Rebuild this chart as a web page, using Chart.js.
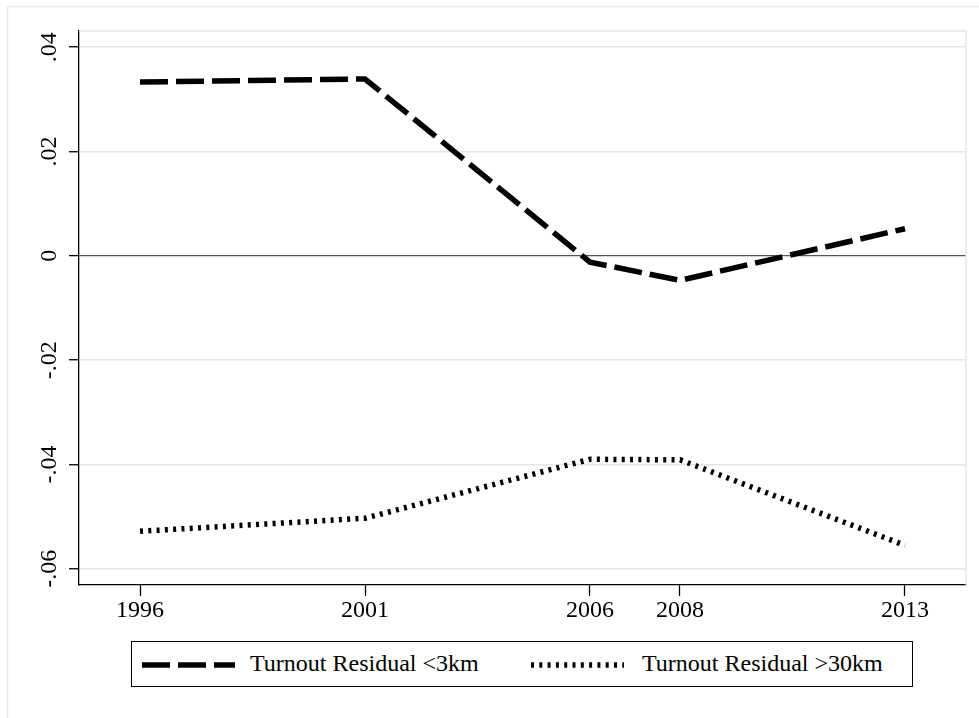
<!DOCTYPE html>
<html>
<head>
<meta charset="utf-8">
<script src="https://cdn.jsdelivr.net/npm/chart.js@4/dist/chart.umd.min.js"></script>
<style>
  html, body { margin: 0; padding: 0; background: #fff; }
  #wrap { position: relative; width: 979px; height: 718px; overflow: hidden; }
  canvas { position: absolute; left: 0; top: 0; }
  #legend { position: absolute; left: 131px; top: 641px; width: 780px; height: 44px;
            border: 1.3px solid #000; background: #fff;
            font-family: 'Liberation Serif', 'Times New Roman', serif; font-size: 24px; color: #000; }
  .item { position: absolute; top: 0; height: 44px; }
  .item svg { position: absolute; top: 0; }
  .item span { position: absolute; top: 9px; white-space: nowrap; line-height: 24px; }
</style>
</head>
<body>
<div id="wrap">
  <canvas id="c" width="979" height="718"></canvas>
  <div id="legend"></div>
</div>
<script>
// ---- data ----
const years = [1996, 2001, 2006, 2008, 2013];
const near3km = [0.0333, 0.0339, -0.0012, -0.0047, 0.0052];
const far30km = [-0.0528, -0.0503, -0.0390, -0.0391, -0.0555];
const seriesNames = ['Turnout Residual <3km', 'Turnout Residual >30km'];
const yTickValues = [-0.06, -0.04, -0.02, 0, 0.02, 0.04];
const yTickLabels = ['-.06', '-.04', '-.02', '0', '.02', '.04'];
const xTickValues = years;

const FONT = "'Liberation Serif', 'Times New Roman', serif";
Chart.defaults.font.family = FONT;
Chart.defaults.font.size = 24;
Chart.defaults.color = '#000';

const dashA = [28, 8];
const dashB = [3, 5.3];

const frame = {
  id: 'frame',
  beforeDraw(chart) {
    const ctx = chart.ctx;
    ctx.save();
    ctx.fillStyle = '#fff';
    ctx.fillRect(0, 0, chart.width, chart.height);
    ctx.strokeStyle = '#ebebeb';
    ctx.lineWidth = 1.5;
    ctx.strokeRect(7.5, 6.5, chart.width + 20, chart.height + 20);
    ctx.restore();
  },
  beforeDatasetsDraw(chart) {
    const a = chart.chartArea, ctx = chart.ctx;
    ctx.save();
    ctx.strokeStyle = '#e6e6e6';
    ctx.lineWidth = 1.5;
    ctx.beginPath();
    ctx.moveTo(a.left, a.top);
    ctx.lineTo(a.right, a.top);
    ctx.lineTo(a.right, a.bottom);
    ctx.stroke();
    ctx.restore();
  }
};

const mk = (xs, ys) => xs.map((x, i) => ({ x: x, y: ys[i] }));

new Chart(document.getElementById('c'), {
  type: 'line',
  data: {
    datasets: [
      { label: seriesNames[0], data: mk(years, near3km), borderColor: '#000', borderWidth: 5.5,
        borderDash: dashA, borderCapStyle: 'butt', pointRadius: 0, tension: 0, fill: false },
      { label: seriesNames[1], data: mk(years, far30km), borderColor: '#000', borderWidth: 5.5,
        borderDash: dashB, borderCapStyle: 'butt', pointRadius: 0, tension: 0, fill: false }
    ]
  },
  options: {
    responsive: false,
    animation: false,
    layout: { padding: { left: 0, top: 31, right: 13, bottom: 83 } },
    plugins: { legend: { display: false }, tooltip: { enabled: false } },
    scales: {
      x: {
        type: 'linear',
        min: 1994.644, max: 2014.356,
        afterBuildTicks: s => { s.ticks = xTickValues.map(v => ({ value: v })); },
        afterFit: s => { s.height = 50; },
        border: { color: '#000', width: 1.3 },
        grid: { drawOnChartArea: false, tickLength: 11, tickColor: '#000', tickWidth: 1.3 },
        ticks: { padding: 0, maxRotation: 0, autoSkip: false, font: { size: 24 },
                 callback: v => String(v) }
      },
      y: {
        type: 'linear',
        min: -0.0631, max: 0.0431,
        afterBuildTicks: s => { s.ticks = yTickValues.map(v => ({ value: v })); },
        afterFit: s => { s.width = 79; },
        border: { color: '#000', width: 1.3 },
        grid: {
          drawOnChartArea: true, tickLength: 10, tickWidth: 1.3, tickColor: '#000',
          color: c => (c.tick && Math.abs(c.tick.value) < 1e-9) ? '#555' : '#e6e6e6',
          lineWidth: c => (c.tick && Math.abs(c.tick.value) < 1e-9) ? 1.2 : 1.5
        },
        ticks: { padding: 0, minRotation: 90, maxRotation: 90, crossAlign: 'center', autoSkip: false,
                 font: { size: 24 },
                 callback: (v, i) => yTickLabels[yTickValues.indexOf(v)] ?? yTickLabels[i] }
      }
    }
  },
  plugins: [frame]
});

// ---- legend (HTML, real text) ----
const legend = document.getElementById('legend');
const items = [
  { name: seriesNames[0], dash: dashA, sampleLeft: 10, textLeft: 118 },
  { name: seriesNames[1], dash: dashB, sampleLeft: 399, textLeft: 510 }
];
items.forEach(it => {
  const d = document.createElement('div');
  d.className = 'item';
  d.style.left = '0px';
  d.innerHTML =
    '<svg width="93" height="44" style="left:' + it.sampleLeft + 'px">' +
    '<line x1="0" y1="23" x2="93" y2="23" stroke="#000" stroke-width="5.5" stroke-dasharray="' + it.dash.join(' ') + '"/></svg>' +
    '<span style="left:' + it.textLeft + 'px"></span>';
  d.querySelector('span').textContent = it.name;
  legend.appendChild(d);
});
</script>
</body>
</html>
